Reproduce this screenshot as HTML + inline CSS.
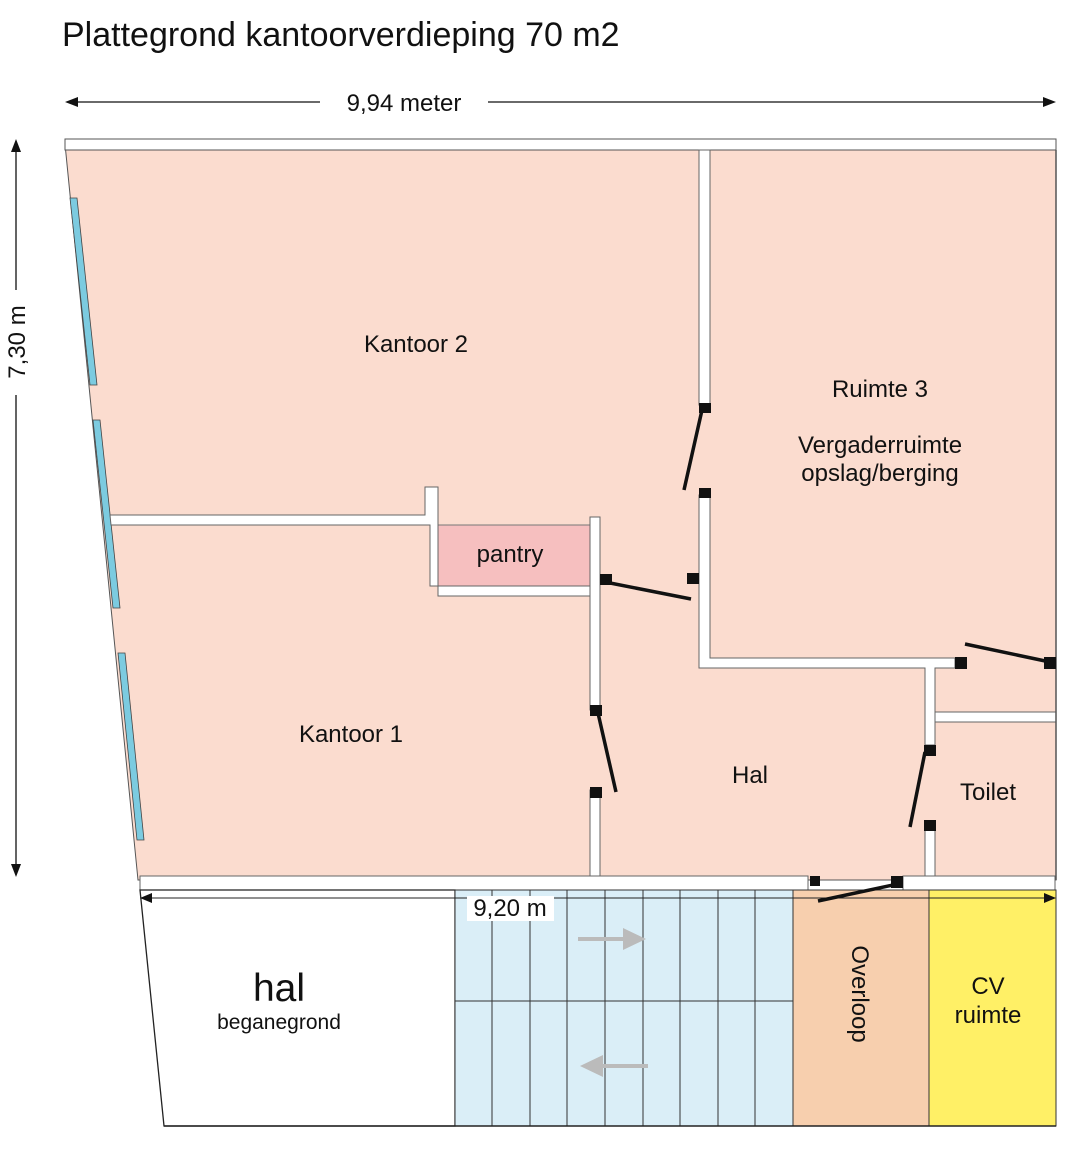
<!DOCTYPE html>
<html><head><meta charset="utf-8"><style>
html,body{margin:0;padding:0;background:#fff;}
svg{display:block;font-family:"Liberation Sans",Arial,sans-serif;}
</style></head><body>
<svg width="1080" height="1152" viewBox="0 0 1080 1152" xmlns="http://www.w3.org/2000/svg">
<text x="62" y="46" font-size="34" fill="#111">Plattegrond kantoorverdieping 70 m2</text>
<!-- top dimension -->
<line x1="70" y1="102" x2="320" y2="102" stroke="#111" stroke-width="1.3"/>
<line x1="488" y1="102" x2="1050" y2="102" stroke="#111" stroke-width="1.3"/>
<polygon points="65,102 78,97 78,107" fill="#111"/>
<polygon points="1056,102 1043,97 1043,107" fill="#111"/>
<text x="404" y="111" font-size="24" text-anchor="middle" fill="#111">9,94 meter</text>
<!-- left dimension -->
<line x1="16" y1="145" x2="16" y2="290" stroke="#111" stroke-width="1.3"/>
<line x1="16" y1="395" x2="16" y2="870" stroke="#111" stroke-width="1.3"/>
<polygon points="16,139 11,152 21,152" fill="#111"/>
<polygon points="16,877 11,864 21,864" fill="#111"/>
<text transform="translate(25,342) rotate(-90)" font-size="24" text-anchor="middle" fill="#111">7,30 m</text>
<!-- floor -->
<polygon points="65,144 1056,144 1056,880 138,880" fill="#fbdccf" stroke="#555" stroke-width="1"/>
<rect x="65" y="139" width="991" height="11" fill="#fff" stroke="#555" stroke-width="1"/>
<!-- windows -->
<polygon points="70,198 77,198 97,385 90,385" fill="#7ccbe0" stroke="#444" stroke-width="0.8"/>
<polygon points="93,420 100,420 120,608 113,608" fill="#7ccbe0" stroke="#444" stroke-width="0.8"/>
<polygon points="118,653 125,653 144,840 137,840" fill="#7ccbe0" stroke="#444" stroke-width="0.8"/>
<!-- pantry -->
<rect x="438" y="525" width="152" height="61" fill="#f6bfbf" stroke="#777" stroke-width="1"/>
<text x="510" y="562" font-size="24" text-anchor="middle" fill="#111">pantry</text>
<g fill="#fff" stroke="#666" stroke-width="1">
<polygon points="110,515 425,515 425,487 438,487 438,596 600,596 600,586 430,586 430,525 111,525"/>
<rect x="590" y="517" width="10" height="193"/>
<rect x="590" y="790" width="10" height="88"/>
<rect x="699" y="150" width="11" height="255"/>
<polygon points="699,495 710,495 710,658 955,658 955,668 935,668 935,745 925,745 925,668 699,668"/>
<rect x="935" y="712" width="121" height="10"/>
<rect x="925" y="826" width="10" height="52"/>
<rect x="140" y="876" width="668" height="14"/>
<rect x="903" y="876" width="152" height="14"/>
</g>
<line x1="1056" y1="150" x2="1056" y2="880" stroke="#555" stroke-width="1.5"/>
<!-- doors -->
<g fill="#111">
<rect x="699" y="403" width="12" height="10"/><rect x="699" y="488" width="12" height="10"/>
<rect x="600" y="574" width="12" height="11"/><rect x="687" y="573" width="12" height="11"/>
<rect x="590" y="705" width="12" height="11"/><rect x="590" y="787" width="12" height="11"/>
<rect x="955" y="657" width="12" height="12"/><rect x="1044" y="657" width="12" height="12"/>
<rect x="924" y="745" width="12" height="11"/><rect x="924" y="820" width="12" height="11"/>
<rect x="810" y="876" width="10" height="10"/><rect x="891" y="876" width="12" height="12"/>
</g>
<g stroke="#111" stroke-width="3.5">
<line x1="702" y1="410" x2="684" y2="490"/>
<line x1="605" y1="582" x2="691" y2="599"/>
<line x1="598" y1="713" x2="616" y2="792"/>
<line x1="965" y1="644" x2="1050" y2="662"/>
<line x1="925" y1="752" x2="910" y2="827"/>
</g>
<text x="416" y="352" font-size="24" text-anchor="middle" fill="#111">Kantoor 2</text>
<text x="880" y="397" font-size="24" text-anchor="middle" fill="#111">Ruimte 3</text>
<text x="880" y="453" font-size="24" text-anchor="middle" fill="#111">Vergaderruimte</text>
<text x="880" y="481" font-size="24" text-anchor="middle" fill="#111">opslag/berging</text>
<text x="351" y="742" font-size="24" text-anchor="middle" fill="#111">Kantoor 1</text>
<text x="750" y="783" font-size="24" text-anchor="middle" fill="#111">Hal</text>
<text x="988" y="800" font-size="24" text-anchor="middle" fill="#111">Toilet</text>
<!-- ground floor -->
<polygon points="140,890 455,890 455,1126 164,1126" fill="#fff" stroke="#222" stroke-width="1.3"/>
<rect x="455" y="890" width="338" height="236" fill="#daeef7" stroke="#333" stroke-width="1"/>
<g stroke="#333" stroke-width="1">
<line x1="492" y1="890" x2="492" y2="1126"/><line x1="530" y1="890" x2="530" y2="1126"/>
<line x1="567" y1="890" x2="567" y2="1126"/><line x1="605" y1="890" x2="605" y2="1126"/>
<line x1="643" y1="890" x2="643" y2="1126"/><line x1="680" y1="890" x2="680" y2="1126"/>
<line x1="718" y1="890" x2="718" y2="1126"/><line x1="755" y1="890" x2="755" y2="1126"/>
<line x1="455" y1="1001" x2="793" y2="1001"/>
</g>
<rect x="793" y="890" width="136" height="236" fill="#f7cfae" stroke="#333" stroke-width="1"/>
<rect x="929" y="890" width="127" height="236" fill="#fff066" stroke="#333" stroke-width="1"/>
<line x1="164" y1="1126" x2="1056" y2="1126" stroke="#222" stroke-width="1.5"/>
<line x1="578" y1="939" x2="625" y2="939" stroke="#bbb" stroke-width="4"/>
<polygon points="623,928 646,939 623,950" fill="#bbb"/>
<line x1="600" y1="1066" x2="648" y2="1066" stroke="#bbb" stroke-width="4"/>
<polygon points="603,1055 580,1066 603,1077" fill="#bbb"/>
<line x1="145" y1="898" x2="1050" y2="898" stroke="#222" stroke-width="1"/>
<polygon points="140,898 152,893 152,903" fill="#111"/>
<polygon points="1056,898 1044,893 1044,903" fill="#111"/>
<line x1="893" y1="885" x2="818" y2="901" stroke="#111" stroke-width="3.5"/>
<rect x="467" y="896" width="87" height="25" fill="#fff"/>
<text x="510" y="916" font-size="24" text-anchor="middle" fill="#111">9,20 m</text>
<text x="279" y="1001" font-size="39" text-anchor="middle" fill="#111">hal</text>
<text x="279" y="1029" font-size="21" text-anchor="middle" fill="#111">beganegrond</text>
<text transform="translate(852,994) rotate(90)" font-size="24" text-anchor="middle" fill="#111">Overloop</text>
<text x="988" y="994" font-size="24" text-anchor="middle" fill="#111">CV</text>
<text x="988" y="1023" font-size="24" text-anchor="middle" fill="#111">ruimte</text>
</svg>
</body></html>
